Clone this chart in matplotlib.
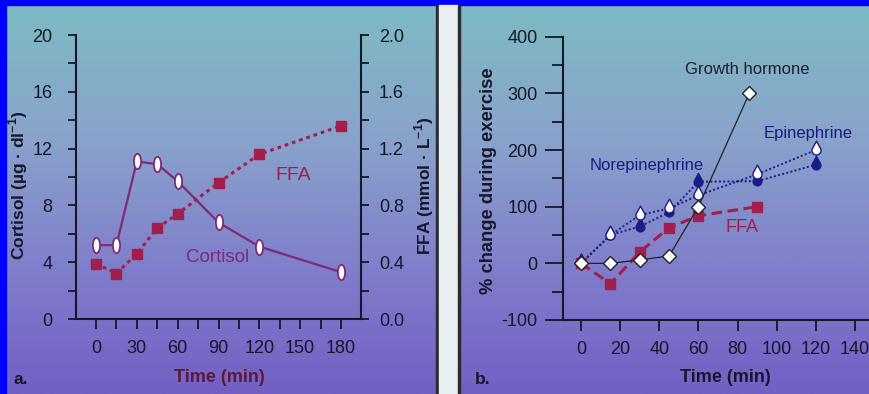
import numpy as np
import matplotlib
matplotlib.use("Agg")
import matplotlib.pyplot as plt
from matplotlib.path import Path
from matplotlib.ticker import MultipleLocator, FixedLocator
from matplotlib.colors import LinearSegmentedColormap
from matplotlib.patches import Rectangle

plt.rcParams['font.family'] = ['Liberation Sans', 'DejaVu Sans']
plt.rcParams['axes.unicode_minus'] = False
plt.rcParams['mathtext.fontset'] = 'custom'
plt.rcParams['mathtext.rm'] = 'Liberation Sans'
plt.rcParams['mathtext.bf'] = 'Liberation Sans:bold'

# panel a data
time_a = [0, 15, 30, 45, 60, 90, 120, 180]
cortisol = [5.2, 5.2, 11.1, 10.9, 9.7, 6.8, 5.1, 3.3]
ffa_a = [0.39, 0.32, 0.46, 0.64, 0.74, 0.96, 1.16, 1.36]
xticks_a = [0, 30, 60, 90, 120, 150, 180]

# panel b data (% change during exercise)
gh_time = [0, 15, 30, 45, 60, 86]
gh = [0, 0, 6, 13, 100, 300]
epi_time = [0, 15, 30, 45, 60, 90, 120]
epi = [0, 50, 85, 97, 120, 157, 200]
norepi_time = [0, 15, 30, 45, 60, 90, 120]
norepi = [0, 50, 65, 90, 144, 145, 174]
ffa_b_time = [0, 15, 30, 45, 60, 90]
ffa_b = [0, -36, 20, 63, 84, 100]
xticks_b = [0, 20, 40, 60, 80, 100, 120, 140]

PURPLE = '#7e2a76'
CRIMSON = '#a41e4c'
NAVY = '#1b1a86'
INK = '#17172a'

# custom markers
circ = Path.unit_circle()
oval = Path(circ.vertices * [0.47, 1.0], circ.codes)


def teardrop():
    r, d = 0.6, 1.25
    phi = np.degrees(np.arccos(r / d))
    ang = np.radians(np.linspace(90 - phi, 90 + phi - 360, 40))
    arc = np.c_[r * np.cos(ang), r * np.sin(ang)]
    verts = np.vstack([[0, d], arc, [0, d]])
    return Path(verts, closed=True)


drop = teardrop()

W, H = 869, 394
fig = plt.figure(figsize=(W / 100, H / 100), dpi=100)

# background gradient, border and divider
bg = fig.add_axes([0, 0, 1, 1], zorder=-10)
cmap = LinearSegmentedColormap.from_list(
    'bg', [(0, '#7cbcc2'), (0.35, '#89a3cb'), (0.7, '#7f7ccb'), (1, '#7260c4')])
grad = np.linspace(0, 1, 256)[:, None]
bg.imshow(grad, aspect='auto', cmap=cmap, extent=[0, W, H, 0])
bg.add_patch(Rectangle((0, 0), W, 5, color='#0000ff'))
bg.add_patch(Rectangle((0, 0), 6, H, color='#0000ff'))
bg.add_patch(Rectangle((436, 5), 2.5, H, color='#2a2a33'))
bg.add_patch(Rectangle((438.5, 5), 19, H, color='#e9eef0'))
bg.add_patch(Rectangle((457.5, 5), 2.5, H, color='#2a2a33'))
bg.set_xlim(0, W)
bg.set_ylim(H, 0)
bg.axis('off')


def px(left, top, right, bottom):
    return [left / W, 1 - bottom / H, (right - left) / W, (bottom - top) / H]


def style(ax):
    for s in ax.spines.values():
        s.set_color(INK)
        s.set_linewidth(1.5)
    ax.set_facecolor('none')


# ---------- panel a ----------
ax = fig.add_axes(px(76, 35, 361, 319))
ax2 = ax.twinx()
for a in (ax, ax2):
    style(a)
ax.spines['top'].set_visible(False)
ax.spines['right'].set_visible(False)
ax2.spines['top'].set_visible(False)
ax2.spines['left'].set_visible(False)
ax2.spines['bottom'].set_visible(False)

ax.plot(time_a, cortisol, color=PURPLE, lw=1.6, marker=oval, ms=11,
        mfc='white', mec=PURPLE, mew=1.3, zorder=3)
ax2.plot(time_a, ffa_a, color=CRIMSON, lw=2.2, ls=(0, (1.2, 1.3)),
         marker='s', ms=6.5, mfc=CRIMSON, mec=CRIMSON, zorder=3)

ax.set_xlim(-14.7, 194.7)
ax.set_ylim(0, 20)
ax2.set_ylim(0, 2.0)
ax.xaxis.set_major_locator(FixedLocator(xticks_a))
ax.xaxis.set_minor_locator(MultipleLocator(15))
ax.yaxis.set_major_locator(MultipleLocator(4))
ax.yaxis.set_minor_locator(MultipleLocator(2))
ax2.yaxis.set_major_locator(MultipleLocator(0.4))
ax2.yaxis.set_minor_locator(MultipleLocator(0.2))
ax2.set_yticklabels([f'{v:.1f}' for v in ax2.get_yticks()])
ax.tick_params(axis='x', which='both', direction='out', length=7, width=1.3,
               color=INK, labelsize=13, labelcolor=INK, pad=8)
ax.tick_params(axis='y', which='both', direction='out', length=6, width=1.3,
               color=INK, labelsize=13, labelcolor=INK, pad=11)
ax2.tick_params(axis='y', which='both', direction='out', length=6, width=1.3,
                color=INK, labelsize=13, labelcolor=INK, pad=7)

ax.set_ylabel(r'Cortisol (µg · dl$^{\mathbf{-1}}$)', fontsize=12.5,
              fontweight='bold', color=INK)
ax.yaxis.set_label_coords(-0.161, 0.47)
ax2.set_ylabel(r'FFA (mmol · L$^{\mathbf{-1}}$)', fontsize=12.5,
               fontweight='bold', color=INK)
ax2.yaxis.set_label_coords(1.179, 0.47)

ax.text(0.761, 0.507, 'FFA', transform=ax.transAxes, fontsize=14,
        color=CRIMSON, ha='center', va='center')
ax.text(0.495, 0.215, 'Cortisol', transform=ax.transAxes, fontsize=13.5,
        color=PURPLE, ha='center', va='center')

fig.text(219 / W, 1 - 378 / H, 'Time (min)', fontsize=13, fontweight='bold',
         color='#5e1838', ha='center', va='center')
fig.text(13 / W, 1 - 379 / H, 'a.', fontsize=12.5, fontweight='bold',
         color=INK, ha='left', va='center')

# ---------- panel b ----------
bx = fig.add_axes(px(562.7, 36.7, 869, 320))
style(bx)
bx.spines['top'].set_visible(False)
bx.spines['right'].set_visible(False)

bx.plot(ffa_b_time, ffa_b, color=CRIMSON, lw=2.2, ls=(0, (3.5, 1.8)),
        marker='s', ms=6.5, mfc=CRIMSON, mec=CRIMSON, zorder=3)
bx.plot(norepi_time, norepi, color=NAVY, lw=1.4, ls=(0, (1, 1.2)),
        marker=drop, ms=13.5, mfc=NAVY, mec=NAVY, mew=0.8, zorder=4)
bx.plot(epi_time, epi, color=NAVY, lw=1.4, ls=(0, (1, 1.2)),
        marker=drop, ms=13.5, mfc='white', mec=NAVY, mew=1.0, zorder=5)
bx.plot(gh_time, gh, color='#222222', lw=0.9, marker='D', ms=7,
        mfc='white', mec='#222222', mew=1.0, zorder=6)

bx.set_xlim(-9.4, 147.2)
bx.set_ylim(-100, 400)
bx.xaxis.set_major_locator(FixedLocator(xticks_b))
bx.yaxis.set_major_locator(MultipleLocator(100))
bx.yaxis.set_minor_locator(MultipleLocator(50))
bx.tick_params(axis='x', which='major', direction='out', length=8, width=1.3,
               color=INK, labelsize=13, labelcolor=INK, pad=7)
bx.tick_params(axis='y', which='major', direction='out', length=13, width=1.3,
               color=INK, labelsize=13, labelcolor=INK, pad=5)
bx.tick_params(axis='y', which='minor', direction='out', length=8, width=1.3,
               color=INK)

bx.set_ylabel('% change during exercise', fontsize=13.2, fontweight='bold', color=INK)
bx.yaxis.set_label_coords(-0.2145, 0.49)

bx.text(0.601, 0.885, 'Growth hormone', transform=bx.transAxes, fontsize=12,
        color='#1e1e2a', ha='center', va='center')
bx.text(0.801, 0.66, 'Epinephrine', transform=bx.transAxes, fontsize=12,
        color=NAVY, ha='center', va='center')
bx.text(0.274, 0.545, 'Norepinephrine', transform=bx.transAxes, fontsize=12,
        color=NAVY, ha='center', va='center')
bx.text(0.584, 0.326, 'FFA', transform=bx.transAxes, fontsize=13,
        color=CRIMSON, ha='center', va='center')

fig.text(725 / W, 1 - 378 / H, 'Time (min)', fontsize=13, fontweight='bold',
         color=INK, ha='center', va='center')
fig.text(475 / W, 1 - 379 / H, 'b.', fontsize=12.5, fontweight='bold',
         color=INK, ha='left', va='center')

fig.savefig('out.png', dpi=100)
